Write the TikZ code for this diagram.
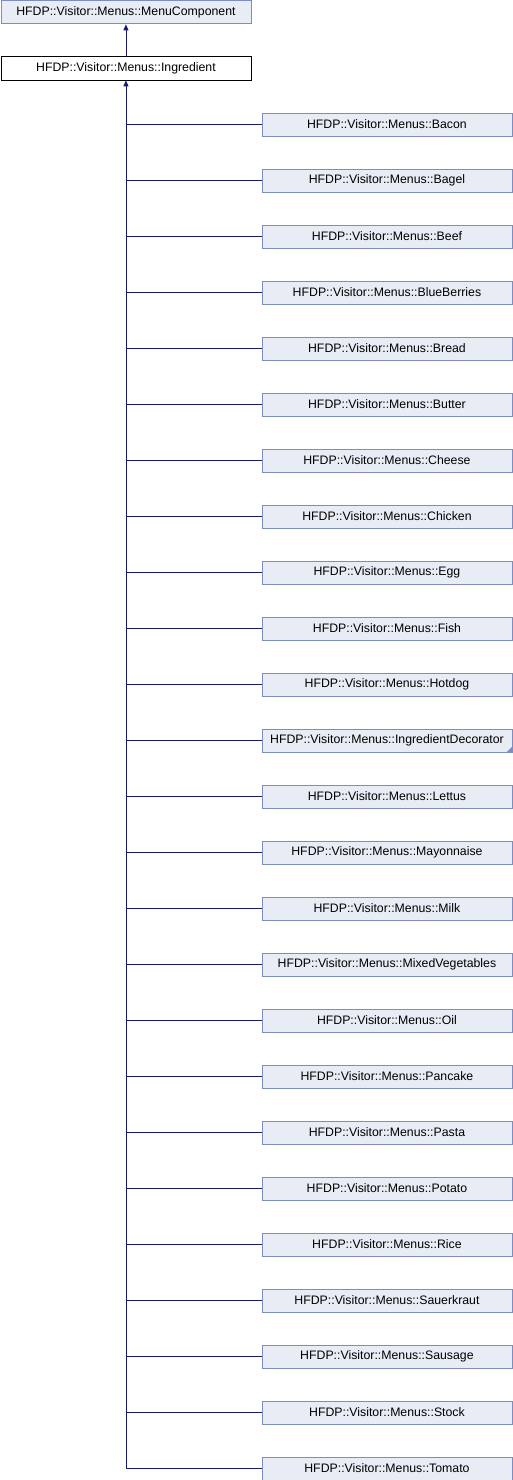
\documentclass[tikz,border=0pt]{standalone}
\usepackage{fontspec}
\setmainfont{Liberation Sans}
\usetikzlibrary{arrows.meta}
\definecolor{boxfill}{HTML}{E8ECF5}
\definecolor{boxedge}{HTML}{7C8DC4}
\definecolor{edgecol}{HTML}{191970}
\tikzset{
  cls/.style={draw=boxedge, fill=boxfill, line width=0.9pt, minimum width=250pt, minimum height=23pt, inner sep=0pt, font=\fontsize{12.3pt}{14pt}\selectfont, anchor=north west},
  cur/.style={cls, draw=black, fill=white},
  edge/.style={draw=edgecol, line width=0.9pt},
  arr/.style={edge, -{Triangle[length=6pt,width=5pt]}}
}
\begin{document}
\begin{tikzpicture}[x=1pt,y=-1pt]
\useasboundingbox (0,0) rectangle (512,1480);
\node[cls] (mc) at (0.5,0.5) {HFDP::Visitor::Menus::MenuComponent};
\node[cur] (ing) at (0.5,56.5) {HFDP::Visitor::Menus::Ingredient};
\draw[arr] (ing.north) -- (mc.south);
\foreach \n/\t [count=\i] in {c1/Bacon,c2/Bagel,c3/Beef,c4/BlueBerries,c5/Bread,c6/Butter,c7/Cheese,c8/Chicken,c9/Egg,c10/Fish,c11/Hotdog,c12/IngredientDecorator,c13/Lettus,c14/Mayonnaise,c15/Milk,c16/MixedVegetables,c17/Oil,c18/Pancake,c19/Pasta,c20/Potato,c21/Rice,c22/Sauerkraut,c23/Sausage,c24/Stock,c25/Tomato}{
  \node[cls] (\n) at (261.5,{112.5+56*(\i-1)}) {HFDP::Visitor::Menus::\t};
  \draw[edge] (ing.south |- \n.west) -- (\n.west);
}
\fill[boxedge] (c12.south east) -- ++(0,-6) -- ++(-6,6) -- cycle;
\draw[arr] (ing.south |- c25.west) -- (ing.south);
\end{tikzpicture}
\end{document}
